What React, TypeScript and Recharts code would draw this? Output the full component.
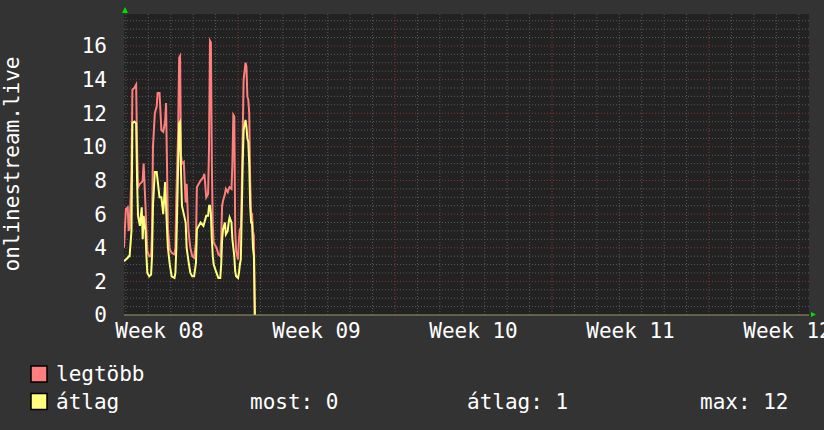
import React from "react";
import { LineChart, Line, XAxis, YAxis, CartesianGrid, ReferenceDot } from "recharts";

// hours since the start of Week 08
const hours = [
  46, 48, 50, 51, 52, 54, 55, 57, 59, 60, 61, 63, 65, 66, 67, 69, 70, 71, 73, 75,
  76, 77, 79, 81, 82, 84, 86, 88, 90, 91, 92, 93, 95, 97, 100, 101, 102, 104, 105, 106,
  107, 108, 110, 112, 113, 115, 117, 119, 121, 123, 124, 126, 128, 131, 132, 134, 136, 137, 138, 139,
  140, 141, 142, 145, 147, 149, 150, 151, 152, 154, 155, 157, 158, 159, 161, 162, 163, 164, 165, 166,
  168, 169, 170, 171, 172, 173, 174, 176, 177, 178, 179, 180, 181, 182, 183, 184, 185, 186,
];

// legtöbb (max)
const maxValues = [
  4.0, 6.3, 6.4, 5.0, 5.2, 8.5, 13.4, 13.5, 13.7, 10.0, 7.6, 7.8, 7.9, 8.0, 9.0, 6.5, 5.0, 3.8, 3.5, 3.5,
  5.0, 10.0, 12.0, 12.4, 13.2, 13.2, 11.0, 10.9, 11.5, 12.6, 9.0, 5.1, 3.9, 3.7, 3.6, 4.0, 7.0, 11.0, 15.3, 15.4,
  9.5, 9.0, 9.1, 6.7, 7.8, 5.0, 4.0, 3.5, 3.4, 4.3, 7.6, 7.8, 8.0, 8.2, 8.4, 7.0, 7.2, 10.0, 16.3, 16.2,
  9.0, 5.3, 4.3, 4.0, 3.6, 3.5, 4.5, 6.5, 6.8, 7.2, 7.5, 7.3, 7.5, 7.6, 7.5, 9.0, 11.9, 11.8, 5.0, 3.8,
  3.3, 4.5, 5.1, 5.1, 7.5, 10.6, 14.0, 15.0, 14.8, 13.0, 12.8, 12.0, 8.0, 6.1, 6.0, 5.0, 4.7, 0,
];

// átlag (average)
const avgValues = [
  3.2, 3.3, 3.4, 3.5, 3.5, 5.0, 11.4, 11.5, 11.4, 8.0, 5.9, 5.3, 6.4, 4.5, 5.9, 5.0, 3.5, 2.5, 2.3, 2.4,
  3.5, 6.5, 8.5, 8.5, 8.0, 7.0, 7.0, 6.0, 7.9, 6.5, 5.1, 4.0, 3.0, 2.3, 2.2, 2.5, 4.0, 9.0, 11.4, 11.5,
  8.5, 6.5, 6.0, 5.5, 4.0, 3.2, 2.5, 2.3, 2.3, 3.1, 5.1, 5.3, 5.5, 5.3, 5.5, 5.9, 5.9, 6.5, 6.5, 6.0,
  4.5, 3.5, 3.0, 2.5, 2.2, 2.2, 3.0, 4.5, 5.1, 5.5, 4.8, 5.0, 5.5, 5.8, 5.5, 4.5, 4.0, 3.5, 2.6, 2.3,
  2.2, 2.5, 3.0, 3.3, 6.0, 9.0, 11.0, 11.6, 11.2, 10.5, 10.3, 9.0, 6.5, 5.5, 5.5, 4.0, 3.5, 0,
];

const weekCenters = [84, 252, 420, 588, 756];
const weekLabels = ["Week 08", "Week 09", "Week 10", "Week 11", "Week 12"];
const weekBounds = [168, 336, 504, 672];
const dayLines = [48, 72, 96, 120, 144, 192, 216, 240, 264, 288, 312, 360, 384, 408, 432, 456, 480, 528, 552, 576, 600, 624, 648, 696, 720, 744, 768];
const yTicks = [0, 2, 4, 6, 8, 10, 12, 14, 16];
const yMinor = [0.5, 1, 1.5, 2.5, 3, 3.5, 4.5, 5, 5.5, 6.5, 7, 7.5, 8.5, 9, 9.5, 10.5, 11, 11.5, 12.5, 13, 13.5, 14.5, 15, 15.5, 16.5, 17, 17.5];
const yMajor = [2, 4, 6, 8, 10, 12, 14, 16];
const xDomain = [46, 779];
const yDomain = [0, 17.9];

const legendRows = [
  { name: "legtöbb", color: "#ff7f7f" },
  { name: "átlag", color: "#ffff7f" },
];
const statLabels = ["most: 0", "átlag: 1", "max: 12"];

const data = hours.map((h, i) => ({ h, max: maxValues[i], avg: avgValues[i] }));

const FONT = "DejaVu Sans Mono";

const upArrow = (p: any) => (
  <polygon points={`${p.cx - 2},${p.cy - 1} ${p.cx + 4},${p.cy - 1} ${p.cx + 1},${p.cy - 7}`} fill="#00e000" />
);
const rightArrow = (p: any) => (
  <polygon points={`${p.cx + 2},${p.cy - 3} ${p.cx + 2},${p.cy + 2} ${p.cx + 7},${p.cy - 0.5}`} fill="#00e000" />
);

export default function App() {
  return (
    <div style={{ position: "absolute", left: 0, top: 0, width: 824, height: 430, background: "#333333", overflow: "hidden" }}>
      <LineChart width={824} height={430} data={data} margin={{ top: 14, right: 15, left: 0, bottom: 85 }}>
        <CartesianGrid
          fill="#222222"
          stroke="#5a5a5a"
          strokeDasharray="1 2"
          horizontalValues={yMinor}
          verticalValues={dayLines}
        />
        <CartesianGrid
          stroke="#8a3535"
          strokeDasharray="1 2"
          horizontalValues={yMajor}
          verticalValues={weekBounds}
        />
        <XAxis
          type="number"
          dataKey="h"
          domain={xDomain}
          allowDataOverflow
          ticks={weekCenters}
          interval={0}
          tickFormatter={(v: number) => weekLabels[weekCenters.indexOf(v)]}
          tickLine={false}
          tickSize={0}
          tickMargin={8}
          height={30}
          axisLine={{ stroke: "#9a9866", strokeWidth: 1 }}
          tick={{ fill: "#ffffff", fontSize: 21, fontFamily: FONT }}
        />
        <YAxis
          type="number"
          domain={yDomain}
          allowDataOverflow
          ticks={yTicks}
          interval={0}
          width={124}
          tickLine={false}
          tickSize={0}
          tickMargin={17}
          axisLine={false}
          tick={{ fill: "#ffffff", fontSize: 21, fontFamily: FONT }}
        />
        <Line type="linear" dataKey="max" stroke="#ff7f7f" strokeWidth={2} dot={false} isAnimationActive={false} />
        <Line type="linear" dataKey="avg" stroke="#ffff7f" strokeWidth={2} dot={false} isAnimationActive={false} />
        <ReferenceDot x={xDomain[0]} y={yDomain[1]} ifOverflow="visible" shape={upArrow} />
        <ReferenceDot x={xDomain[1]} y={yDomain[0]} ifOverflow="visible" shape={rightArrow} />
      </LineChart>
      <svg width={824} height={430} style={{ position: "absolute", left: 0, top: 0, pointerEvents: "none" }}>
        <text
          transform="translate(18.5,164) rotate(-90)"
          textAnchor="middle"
          fill="#ffffff"
          fontSize={21}
          fontFamily={FONT}
        >
          onlinestream.live
        </text>
        {legendRows.map((r, i) => (
          <g key={r.name}>
            <rect x={31} y={366 + i * 27.5} width={16} height={16} fill={r.color} stroke="#000" strokeWidth={1.5} />
            <text x={56} y={381 + i * 27.5} fill="#ffffff" fontSize={21} fontFamily={FONT}>
              {r.name}
            </text>
          </g>
        ))}
        <text x={250} y={408.5} fill="#ffffff" fontSize={21} fontFamily={FONT}>{statLabels[0]}</text>
        <text x={467} y={408.5} fill="#ffffff" fontSize={21} fontFamily={FONT}>{statLabels[1]}</text>
        <text x={700} y={408.5} fill="#ffffff" fontSize={21} fontFamily={FONT}>{statLabels[2]}</text>
      </svg>
    </div>
  );
}
